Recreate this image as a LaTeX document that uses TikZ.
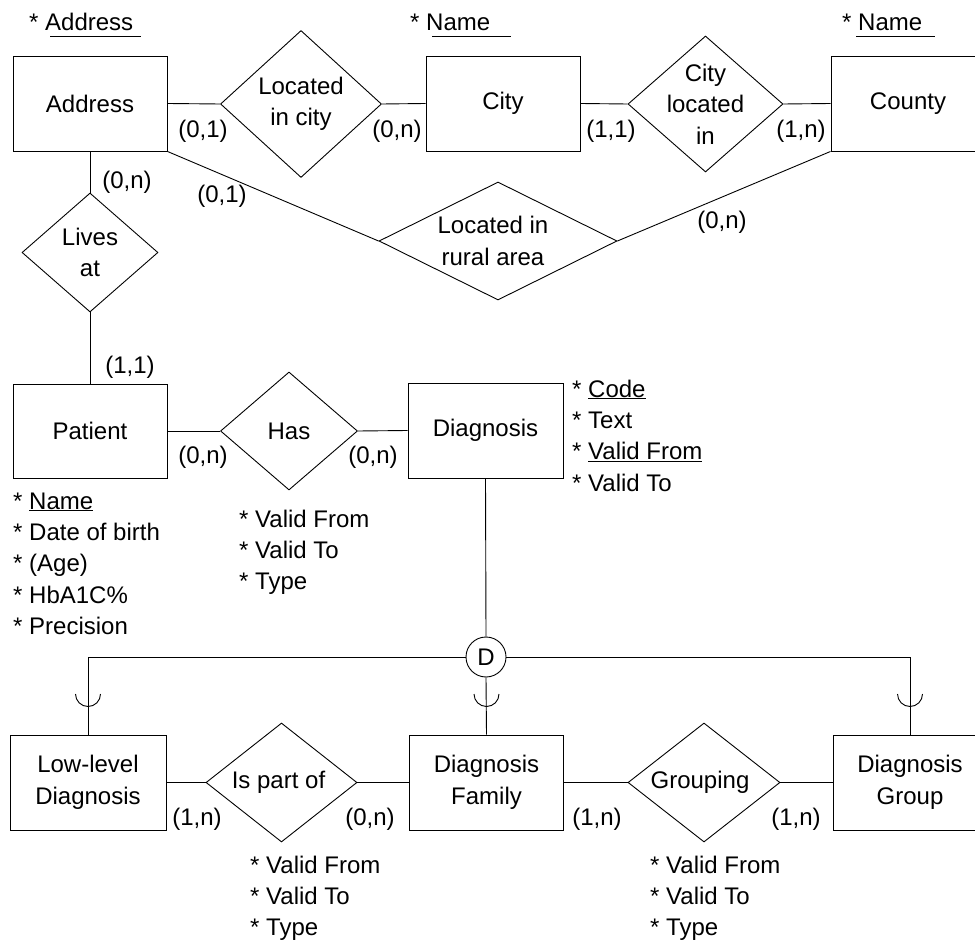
\documentclass[tikz,border=0pt]{standalone}
\usepackage{fontspec}
\setmainfont{Liberation Sans}
\usetikzlibrary{shapes.geometric}
\begin{document}
\begin{tikzpicture}[x=1pt,y=-1pt,
  every node/.style={font=\fontsize{24}{31.5}\selectfont},
  line/.style={line width=0.9pt},
  entity/.style={draw, line width=0.9pt, rectangle, minimum width=154pt,
    minimum height=95pt, inner sep=0pt, align=center},
  rel/.style={draw, line width=0.9pt, diamond, inner sep=0pt},
  lbl/.style={align=center, inner sep=0pt},
  card/.style={inner sep=0pt},
  attr/.style={inner sep=0pt, anchor=base west}
]
\useasboundingbox (0,0) rectangle (975,941);
\clip (0,0) rectangle (975,941);

% ---------- entities ----------
\node[entity] (addr)    at (90,103.5)  {Address};
\node[entity] (city)    at (503,103.5) {City};
\node[entity] (county)  at (908,103.5) {County};
\node[entity, minimum height=94pt] (patient) at (90,431) {Patient};
\node[entity, minimum width=155pt] (diag) at (485.5,430.5) {Diagnosis};
\node[entity, minimum width=156pt] (low) at (88,782.5) {Low-level\\Diagnosis};
\node[entity] (fam)     at (486.5,782.5) {Diagnosis\\Family};
\node[entity] (group)   at (910,782.5) {Diagnosis\\Group};

% ---------- relationships ----------
\node[rel, minimum width=161pt, minimum height=147pt,
  label={[lbl]center:{Located\\in city}}] (lic) at (301,104) {};
\node[rel, minimum width=155pt, minimum height=136pt,
  label={[lbl]center:{City\\located\\in}}] (cli) at (705.5,104) {};
\node[rel, minimum width=136pt, minimum height=119pt,
  label={[lbl]center:{Lives\\at}}] (lives) at (90,252.5) {};
\node[rel, minimum width=238pt, minimum height=118pt,
  label={[lbl, xshift=-5pt]center:{Located in\\rural area}}] (rural) at (498,241) {};
\node[rel, minimum width=137pt, minimum height=118pt,
  label={[lbl]center:Has}] (has) at (289,431) {};
\node[rel, minimum width=151pt, minimum height=119pt,
  label={[lbl, xshift=-3pt]center:Is part of}] (ipo) at (281.5,782.5) {};
\node[rel, minimum width=152pt, minimum height=119pt,
  label={[lbl, xshift=-4pt]center:Grouping}] (grp) at (704,782.5) {};

% disjoint specialisation
\node[draw, line width=0.9pt, circle, minimum size=40pt, inner sep=0pt] (dj) at (486,657) {D};

% ---------- connectors ----------
\draw[line] (addr.east) -- (lic.west);
\draw[line] (lic.east) -- (city.west);
\draw[line] (city.east) -- (cli.west);
\draw[line] (cli.east) -- (county.west);
\draw[line] (addr.south) -- (lives.north);
\draw[line] (lives.south) -- (patient.north);
\draw[line] (addr.south east) -- (rural.west);
\draw[line] (rural.east) -- (county.south west);
\draw[line] (patient.east) -- (has.west);
\draw[line] (has.east) -- (diag.west);
\draw[line] (diag.south) -- (dj.north);
\draw[line] (dj.west) -| (low.north);
\draw[line] (dj.east) -| (group.north);
\draw[line] (dj.south) -- (fam.north);
\draw[line] (low.east) -- (ipo.west);
\draw[line] (ipo.east) -- (fam.west);
\draw[line] (fam.east) -- (grp.west);
\draw[line] (grp.east) -- (group.west);

% subset marks on the specialisation lines
\coordinate (arcrow) at (0,694);
\foreach \n in {low,fam,group}
  \draw[line] (\n.north |- arcrow) ++(-12.5,0) arc[start angle=180, end angle=360, radius=12.5pt];

% ---------- cardinalities ----------
\node[card] (c1)  at (203,131) {(0,1)};
\node[card] (c2)  at (397,131) {(0,n)};
\node[card] (c3)  at (611,131) {(1,1)};
\node[card] (c4)  at (801,131) {(1,n)};
\node[card] (c5)  at (127,182) {(0,n)};
\node[card] (c6)  at (222,196) {(0,1)};
\node[card] (c7)  at (722,222) {(0,n)};
\node[card] (c8)  at (130,367) {(1,1)};
\node[card] (c9)  at (203,457) {(0,n)};
\node[card] (c10) at (373,457) {(0,n)};
\node[card] (c11) at (197,819) {(1,n)};
\node[card] (c12) at (370,819) {(0,n)};
\node[card] (c13) at (597,819) {(1,n)};
\node[card] (c14) at (796,819) {(1,n)};

% ---------- key attributes above the top entities ----------
\node[attr] (addrkey)   at (29,31)  {* Address};
\node[attr] (citykey)   at (410,31) {* Name};
\node[attr] (countykey) at (842,31) {* Name};
\draw[line] (50,36) -- (141,36);
\draw[line] (432,36) -- (511,36);
\draw[line] (856,36) -- (935,36);

% ---------- attribute lists ----------
\foreach [count=\i from 0] \t in {{* \underline{Name}}, {* Date of birth}, {* (Age)}, {* HbA1C\%}, {* Precision}}
  \node[attr] (pat-\i) at (13,509+31.4*\i) {\t};
\foreach [count=\i from 0] \t in {{* Valid From}, {* Valid To}, {* Type}}
  \node[attr] (has-\i) at (239,527+31.4*\i) {\t};
\foreach [count=\i from 0] \t in {{* \underline{Code}}, {* Text}, {* \underline{Valid From}}, {* Valid To}}
  \node[attr] (diag-\i) at (572,397+31.4*\i) {\t};
\foreach [count=\i from 0] \t in {{* Valid From}, {* Valid To}, {* Type}}
  \node[attr] (ipo-\i) at (250,873+31.4*\i) {\t};
\foreach [count=\i from 0] \t in {{* Valid From}, {* Valid To}, {* Type}}
  \node[attr] (grp-\i) at (650,873+31.4*\i) {\t};
\end{tikzpicture}
\end{document}
